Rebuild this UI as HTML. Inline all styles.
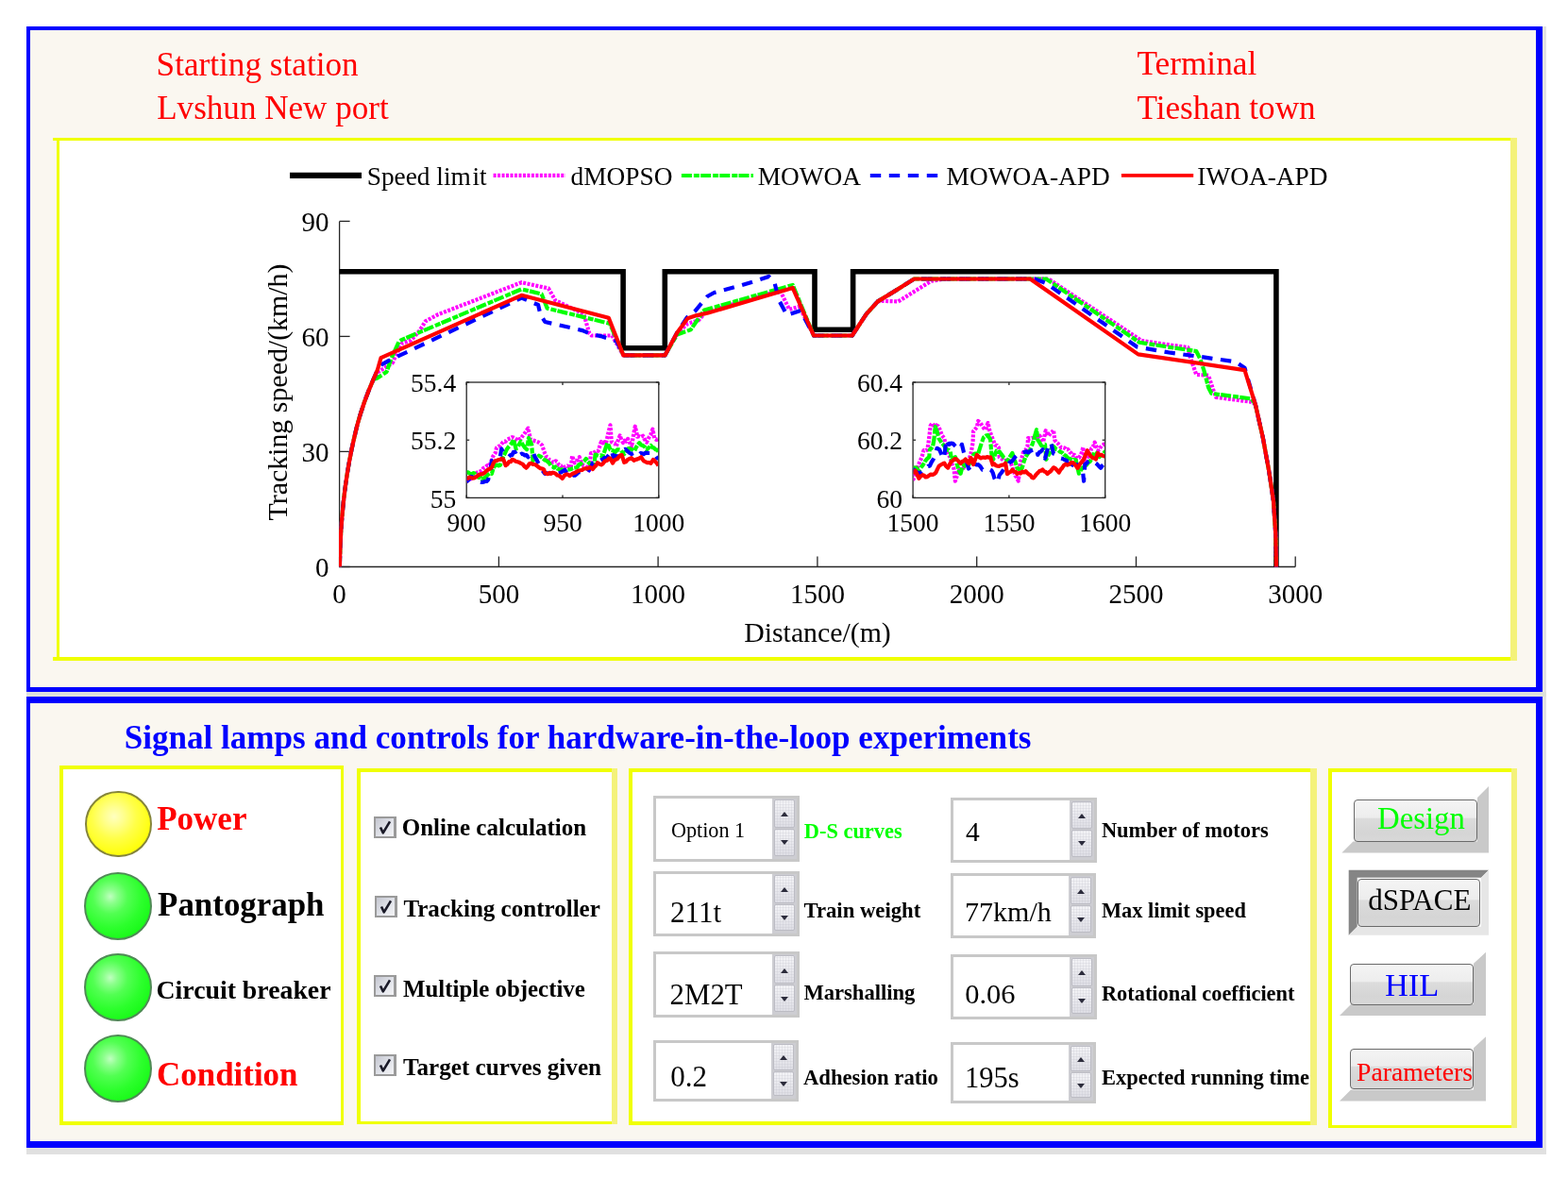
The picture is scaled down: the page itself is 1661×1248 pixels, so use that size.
<!DOCTYPE html>
<html><head><meta charset="utf-8"><title>HIL train tracking control panel</title>
<style>
html,body{margin:0;padding:0;}
body{width:1661px;height:1248px;position:relative;overflow:hidden;background:#fff;font-family:"Liberation Serif","Times New Roman",serif;}
.t{position:absolute;white-space:nowrap;line-height:0;}
.lamp{position:absolute;border-radius:50%;box-sizing:border-box;}
.spin{position:absolute;box-sizing:border-box;background:#fff;border:solid #c8c8c8;border-width:3px 3px 3px 3px;}
.spin .btns{position:absolute;top:0;bottom:0;right:0;width:26px;background:#cdcdd2;}
.spin .btns i{position:absolute;left:2px;right:2px;box-sizing:border-box;border:1px solid #bcbcc4;border-radius:2px;background:repeating-linear-gradient(0deg,rgba(255,255,255,0) 0 2px,rgba(190,190,200,.22) 2px 3px),repeating-linear-gradient(90deg,rgba(255,255,255,0) 0 2px,rgba(190,190,200,.22) 2px 3px),linear-gradient(180deg,#f4f4f7,#dedee5);}
.spin .up{top:1px;height:calc(50% - 2px);}
.spin .dn{bottom:3px;height:calc(50% - 3px);}
.spin .btns b{position:absolute;left:50%;width:0;height:0;margin-left:-4px;border-left:4px solid transparent;border-right:4px solid transparent;}
.spin .up b{top:56%;margin-top:-3px;border-bottom:5px solid #2c2c3c;}
.spin .dn b{top:50%;margin-top:-2px;border-top:5px solid #2c2c3c;}
.cb{position:absolute;width:24px;height:23px;box-sizing:border-box;border:solid #9a9a9a;border-width:2px 3px 2px 2px;background:linear-gradient(135deg,#c4c6d0,#e4e6ec 60%,#f2f2f4);}
.btn{position:absolute;box-sizing:border-box;border:1.5px solid #6a6a6a;border-radius:4px;background:linear-gradient(180deg,#f4f4f4 0%,#ededed 42%,#dcdcdc 45%,#d5d5d5 80%,#d8d8d8 100%);}
</style></head><body>
<div style="position:absolute;left:1634px;top:28px;width:4px;height:712px;background:#e2e2e2"></div>
<div style="position:absolute;left:28px;top:733px;width:1610px;height:5px;background:#dde0da"></div>
<div style="position:absolute;left:28px;top:28px;width:1606px;height:705px;box-sizing:border-box;border:solid #0000ff;border-width:4px 7px 5px 4px;background:#faf7f0"></div>
<div style="position:absolute;left:60px;top:146px;width:1547px;height:554px;background:#fff"></div>
<div style="position:absolute;left:56px;top:146px;width:1551px;height:3px;background:#f0ff00"></div>
<div style="position:absolute;left:60px;top:149px;width:3px;height:551px;background:#f0ff00"></div>
<div style="position:absolute;left:56px;top:696px;width:1551px;height:4px;background:#f0ff00"></div>
<div style="position:absolute;left:1600px;top:146px;width:7px;height:554px;background:#f4f27a"></div>
<div class="t" style="left:165.6px;top:68.7px;font-size:35.20px;color:#ff0000;font-weight:normal;">Starting station</div>
<div class="t" style="left:166.2px;top:114.8px;font-size:35.10px;color:#ff0000;font-weight:normal;">Lvshun New port</div>
<div class="t" style="left:1204.4px;top:68.3px;font-size:35.30px;color:#ff0000;font-weight:normal;">Terminal</div>
<div class="t" style="left:1204.4px;top:115.2px;font-size:35.20px;color:#ff0000;font-weight:normal;">Tieshan town</div>
<svg style="position:absolute;left:0;top:0" width="1661" height="740" viewBox="0 0 1661 740" font-family="Liberation Serif, Times New Roman, serif">
<defs><clipPath id="ca"><rect x="359" y="230" width="1015" height="372"/></clipPath><clipPath id="c1"><rect x="494.7" y="405.5" width="202.6" height="121.4"/></clipPath><clipPath id="c2"><rect x="967.6" y="405.5" width="202.6" height="121.4"/></clipPath></defs>
<line x1="307" y1="185.8" x2="383" y2="185.8" stroke="#000" stroke-width="6.2"/>
<line x1="522.6" y1="185.9" x2="599" y2="185.9" stroke="#ff00ff" stroke-width="4.4" stroke-dasharray="3 1.48"/>
<line x1="721.9" y1="186" x2="798" y2="186" stroke="#00ff00" stroke-width="4" stroke-dasharray="11 2 6 1.2"/>
<line x1="921.8" y1="186" x2="993.3" y2="186" stroke="#0000ff" stroke-width="4" stroke-dasharray="11.4 8.6"/>
<line x1="1187.9" y1="185.9" x2="1264.2" y2="185.9" stroke="#ff0000" stroke-width="3.8"/>
<g font-size="27.35" fill="#000"><text x="388.7" y="195.5">Speed lim<tspan dx="1.6">it</tspan></text><text x="604.6" y="195.5">dMOPSO</text><text x="802.7" y="195.5">MOWOA</text><text x="1002.6" y="195.5">MOWOA-APD</text><text x="1268.3" y="195.5">IWOA-APD</text></g>
<path d="M359.6,234.4 V600.5 H1372.2" fill="none" stroke="#262626" stroke-width="1.3"/>
<line x1="359.6" y1="234.4" x2="370.6" y2="234.4" stroke="#262626" stroke-width="1.3"/>
<line x1="359.6" y1="356.4" x2="370.6" y2="356.4" stroke="#262626" stroke-width="1.3"/>
<line x1="359.6" y1="478.4" x2="370.6" y2="478.4" stroke="#262626" stroke-width="1.3"/>
<line x1="359.6" y1="600.5" x2="370.6" y2="600.5" stroke="#262626" stroke-width="1.3"/>
<line x1="359.6" y1="600.5" x2="359.6" y2="589.5" stroke="#262626" stroke-width="1.3"/>
<line x1="528.4" y1="600.5" x2="528.4" y2="589.5" stroke="#262626" stroke-width="1.3"/>
<line x1="697.1" y1="600.5" x2="697.1" y2="589.5" stroke="#262626" stroke-width="1.3"/>
<line x1="865.9" y1="600.5" x2="865.9" y2="589.5" stroke="#262626" stroke-width="1.3"/>
<line x1="1034.7" y1="600.5" x2="1034.7" y2="589.5" stroke="#262626" stroke-width="1.3"/>
<line x1="1203.5" y1="600.5" x2="1203.5" y2="589.5" stroke="#262626" stroke-width="1.3"/>
<line x1="1372.2" y1="600.5" x2="1372.2" y2="589.5" stroke="#262626" stroke-width="1.3"/>
<g font-size="29" fill="#000">
<text x="348.5" y="244.8" text-anchor="end">90</text>
<text x="348.5" y="366.8" text-anchor="end">60</text>
<text x="348.5" y="488.8" text-anchor="end">30</text>
<text x="348.5" y="610.9" text-anchor="end">0</text>
<text x="359.6" y="639" text-anchor="middle">0</text>
<text x="528.4" y="639" text-anchor="middle">500</text>
<text x="697.1" y="639" text-anchor="middle">1000</text>
<text x="865.9" y="639" text-anchor="middle">1500</text>
<text x="1034.7" y="639" text-anchor="middle">2000</text>
<text x="1203.5" y="639" text-anchor="middle">2500</text>
<text x="1372.2" y="639" text-anchor="middle">3000</text>
<text x="866" y="679.7" text-anchor="middle" font-size="29.8">Distance/(m)</text>
<text transform="translate(303.8,415.5) rotate(-90)" text-anchor="middle" font-size="29.9">Tracking speed/(km/h)</text>
</g>
<g clip-path="url(#ca)" fill="none" stroke-linejoin="round">
<path d="M359.6,287.8 H660.1 V368.8 H704.3 V287.8 H863 V349.2 H903.6 V287.8 H1351.9 V600.5" stroke="#000" stroke-width="5.6" stroke-linejoin="miter"/>
<polyline points="359.8,600.5 360.1,590.0 360.5,578.0 361.2,563.0 362.3,548.0 363.8,532.0 365.6,517.0 367.6,503.0 370.0,489.0 372.5,476.0 375.4,463.0 378.5,450.0 382.0,438.0 386.0,426.0 390.5,414.0 395.5,402.0 400.8,394.0 416.0,384.3 418.2,378.9 425.8,363.7 435.5,360.4 444.2,350.7 450.7,340.4 463.7,333.3 552.5,299.2 581.0,305.5 588.2,318.2 618.3,332.6 624.3,353.1 626.7,355.5 648.4,355.5 660.4,376.4 704.4,376.4 717.2,353.0 728.5,342.9 740.1,339.2 747.7,330.5 826.4,307.8 836.0,327.8 846.9,324.8 862.0,355.5 902.7,355.5 917.8,332.6 929.8,319.4 934.7,318.8 951.5,319.4 986.4,297.7 1000.0,295.5 1110.6,295.5 1209.3,360.9 1240.0,365.6 1258.4,368.0 1260.8,378.5 1264.8,389.7 1267.2,396.9 1280.1,397.7 1284.9,412.1 1288.1,420.9 1324.9,425.7 1329.8,428.3 1337.8,463.6 1344.2,498.8 1349.0,530.9 1351.3,566.2 1352.0,600.5" stroke="#ff00ff" stroke-width="4.2" stroke-dasharray="3 1.5"/>
<polyline points="359.8,600.5 360.1,590.0 360.5,578.0 361.2,563.0 362.3,548.0 363.8,532.0 365.6,517.0 367.6,503.0 370.0,489.0 372.5,476.0 375.4,463.0 378.5,450.0 382.0,438.0 386.0,426.0 390.5,414.0 395.5,402.0 399.8,400.5 409.5,394.0 414.9,378.9 422.5,362.1 424.7,360.4 552.5,306.3 573.7,311.5 579.7,326.6 646.0,342.8 660.4,376.4 704.4,376.4 717.2,354.5 731.7,349.3 746.1,328.5 839.7,301.9 862.0,355.5 902.7,355.5 917.8,332.6 929.8,319.4 946.7,309.1 968.4,295.5 1108.2,295.5 1206.9,362.7 1240.0,368.0 1267.2,372.0 1271.3,380.1 1275.3,392.1 1280.1,410.5 1283.3,416.9 1325.7,422.5 1329.8,428.3 1337.8,463.6 1344.2,498.8 1349.0,530.9 1351.3,566.2 1352.0,600.5" stroke="#00ff00" stroke-width="4.2" stroke-dasharray="11 2 6 1.2"/>
<polyline points="359.8,600.5 360.1,590.0 360.5,578.0 361.2,563.0 362.3,548.0 363.8,532.0 365.6,517.0 367.6,503.0 370.0,489.0 372.5,476.0 375.4,463.0 378.5,450.0 382.0,438.0 386.0,426.0 390.5,414.0 395.5,402.0 400.0,391.5 404.1,386.4 411.7,382.1 552.5,315.5 570.1,323.0 572.5,333.2 577.3,341.0 617.1,350.1 625.5,353.7 636.3,356.1 653.2,361.5 660.4,376.4 704.4,376.4 717.2,352.5 727.7,336.5 736.5,329.3 749.3,314.0 756.5,310.0 766.9,307.2 784.6,302.4 802.3,297.1 814.4,292.9 820.4,298.9 825.2,318.2 833.7,333.8 848.1,329.0 862.0,355.5 902.7,355.5 917.8,332.6 929.8,319.4 946.7,309.1 968.4,295.5 1096.1,295.5 1108.2,300.1 1204.5,367.5 1240.0,373.7 1269.6,377.7 1308.9,383.3 1318.5,389.7 1329.8,428.3 1337.8,463.6 1344.2,498.8 1349.0,530.9 1351.3,566.2 1352.0,600.5" stroke="#0000ff" stroke-width="4.2" stroke-dasharray="11.4 8.6"/>
<polyline points="359.8,600.5 360.1,590.0 360.5,578.0 361.2,563.0 362.3,548.0 363.8,532.0 365.6,517.0 367.6,503.0 370.0,489.0 372.5,476.0 375.4,463.0 378.5,450.0 382.0,438.0 386.0,426.0 390.5,414.0 395.5,402.0 400.0,391.5 403.5,379.2 552.5,312.8 644.8,336.8 660.4,376.4 704.4,376.4 717.2,352.5 728.5,337.3 738.1,334.1 750.1,331.5 839.7,304.9 862.0,355.5 902.7,355.5 917.8,332.6 929.8,319.4 946.7,309.1 968.4,295.5 1091.3,295.5 1205.7,375.4 1318.5,392.1 1329.8,428.3 1337.8,463.6 1344.2,498.8 1349.0,530.9 1351.3,566.2 1352.0,600.5" stroke="#ff0000" stroke-width="4.2"/>
</g>
<rect x="494.2" y="405" width="203.6" height="122.4" fill="#fff" stroke="#262626" stroke-width="1.3"/>
<line x1="494.2" y1="405.0" x2="497.2" y2="405.0" stroke="#262626" stroke-width="1.3"/><line x1="697.8" y1="405.0" x2="694.8" y2="405.0" stroke="#262626" stroke-width="1.3"/>
<line x1="494.2" y1="466.2" x2="497.2" y2="466.2" stroke="#262626" stroke-width="1.3"/><line x1="697.8" y1="466.2" x2="694.8" y2="466.2" stroke="#262626" stroke-width="1.3"/>
<line x1="494.2" y1="527.4" x2="497.2" y2="527.4" stroke="#262626" stroke-width="1.3"/><line x1="697.8" y1="527.4" x2="694.8" y2="527.4" stroke="#262626" stroke-width="1.3"/>
<line x1="494.2" y1="405" x2="494.2" y2="408.0" stroke="#262626" stroke-width="1.3"/><line x1="494.2" y1="527.4" x2="494.2" y2="524.4" stroke="#262626" stroke-width="1.3"/>
<line x1="596.0" y1="405" x2="596.0" y2="408.0" stroke="#262626" stroke-width="1.3"/><line x1="596.0" y1="527.4" x2="596.0" y2="524.4" stroke="#262626" stroke-width="1.3"/>
<line x1="697.8" y1="405" x2="697.8" y2="408.0" stroke="#262626" stroke-width="1.3"/><line x1="697.8" y1="527.4" x2="697.8" y2="524.4" stroke="#262626" stroke-width="1.3"/>
<g clip-path="url(#c1)" fill="none" stroke-linejoin="round">
<polyline points="494.0,510.4 496.0,508.8 498.0,507.9 500.0,504.9 501.7,503.8 503.4,502.9 505.1,500.7 506.8,500.3 508.5,499.5 510.3,498.8 512.0,496.0 514.1,495.1 516.3,493.1 518.4,493.3 520.2,489.3 522.0,483.9 524.8,479.7 526.0,474.4 528.0,473.0 530.0,472.3 531.9,469.6 533.7,467.6 535.4,467.8 537.2,465.6 538.9,464.9 540.6,464.3 542.3,463.2 544.0,463.6 546.0,464.7 548.0,466.8 549.9,465.2 551.7,464.7 553.4,462.2 555.0,460.4 557.2,456.9 559.4,453.6 562.0,465.6 563.9,466.4 565.8,466.9 567.7,467.4 569.8,468.2 572.0,469.7 574.1,471.5 577.3,480.7 578.9,483.9 580.5,484.7 582.1,487.3 583.7,487.8 585.3,489.7 587.0,489.9 588.6,488.3 590.2,489.3 592.1,492.7 594.1,493.3 596.0,496.2 599.0,494.3 600.9,493.5 602.9,494.8 604.8,495.2 606.1,483.0 608.7,490.3 610.4,488.3 612.1,487.3 613.8,484.2 616.4,491.7 618.3,493.3 620.2,494.2 622.1,495.4 624.0,498.4 626.0,480.2 627.9,480.2 629.9,479.0 631.8,477.4 633.7,477.8 636.9,467.9 638.6,469.4 640.3,468.3 642.0,469.3 644.2,459.5 646.5,450.3 647.8,468.0 649.5,469.3 651.2,469.8 652.9,472.9 654.8,466.2 656.7,461.5 658.4,466.2 660.0,469.1 661.7,466.8 663.4,467.8 665.1,464.9 667.0,468.9 668.9,474.0 670.8,462.3 672.8,451.7 675.3,462.7 677.2,462.3 679.2,463.0 681.1,461.8 683.0,465.8 685.0,468.5 687.1,464.0 689.3,460.5 691.4,454.7 693.3,464.6 695.4,465.9 697.5,465.6" stroke="#ff00ff" stroke-width="4.2" stroke-dasharray="3 1.5"/>
<polyline points="494.0,500.3 495.9,500.4 497.9,502.0 499.8,502.0 501.7,501.0 503.5,502.0 505.3,504.3 507.1,505.9 508.9,505.5 510.7,508.2 512.5,507.0 514.2,505.3 516.0,503.8 517.6,502.2 519.3,501.0 520.9,501.8 522.5,496.5 524.1,493.6 526.0,492.5 528.0,493.4 529.9,492.8 531.6,487.9 533.3,483.4 535.0,480.1 536.7,476.3 538.3,474.0 540.0,472.1 542.0,469.5 544.0,465.8 546.6,475.5 548.3,474.4 550.0,470.6 551.7,467.8 553.8,471.1 556.0,474.3 558.1,476.3 560.0,463.8 561.6,467.3 563.2,470.9 564.5,488.0 566.6,486.1 568.8,484.8 570.9,482.7 573.0,483.9 575.2,485.9 577.3,487.6 578.9,488.1 580.5,489.4 582.1,490.8 583.7,494.0 585.3,494.4 586.9,495.6 588.5,494.5 590.2,496.5 591.8,496.9 593.4,498.2 595.5,497.3 597.6,498.7 599.7,496.9 601.3,497.3 603.0,497.3 604.6,497.1 606.3,496.3 607.9,495.8 609.6,495.5 611.2,495.3 613.1,492.5 615.0,491.6 617.0,490.3 618.9,488.6 620.8,486.0 623.0,489.3 625.3,492.0 627.2,494.6 629.2,497.9 630.5,481.5 632.4,482.3 634.4,482.9 636.3,482.3 638.2,483.9 639.9,479.7 641.6,474.5 643.3,469.3 644.9,472.1 646.5,476.4 648.2,476.9 649.9,477.5 651.6,479.2 653.9,476.4 656.1,476.4 657.8,476.7 659.5,479.5 661.2,481.0 663.5,477.3 665.7,475.0 667.8,475.5 670.0,476.6 672.1,478.0 673.8,474.1 675.6,471.1 677.3,469.1 679.2,471.5 681.1,472.1 683.1,473.6 685.0,476.7 687.2,474.3 689.4,471.9 691.0,474.1 692.6,474.3 694.3,476.2 695.9,476.6 697.5,478.5" stroke="#00ff00" stroke-width="4.2" stroke-dasharray="11 2 6 1.2"/>
<polyline points="494.0,510.4 495.7,509.0 497.4,507.1 499.1,504.9 501.2,506.2 503.4,509.0 505.5,510.8 507.1,510.2 508.8,510.6 510.4,511.0 512.0,510.7 513.7,510.0 515.4,510.0 517.1,508.2 519.6,497.0 520.9,488.0 522.7,486.8 524.5,485.7 526.3,485.2 528.1,484.8 529.9,483.6 531.2,475.5 533.1,478.8 535.0,481.4 537.0,482.6 538.9,484.0 540.6,482.2 542.3,482.2 544.0,478.8 545.7,479.1 547.4,477.7 549.1,476.1 551.1,481.6 552.8,480.6 554.4,481.3 556.1,482.5 557.7,482.1 559.4,484.3 561.1,481.8 562.8,480.3 564.5,478.8 566.4,483.6 568.4,486.9 570.3,490.9 572.0,493.6 573.8,496.7 575.5,499.7 577.3,501.9 578.9,501.1 580.5,501.9 582.1,501.5 583.8,501.4 585.4,502.5 587.0,503.2 588.7,501.7 590.3,501.5 592.0,501.2 594.1,500.6 596.3,499.0 598.4,497.9 600.1,500.8 601.8,502.6 603.5,506.0 605.3,505.4 607.1,502.9 609.0,503.7 610.8,502.4 612.6,500.4 614.4,500.2 616.1,500.3 617.8,500.6 619.4,499.3 621.1,499.4 622.8,499.8 624.5,496.8 626.2,494.3 627.9,490.5 629.7,490.2 631.4,488.6 633.2,488.9 635.0,488.4 636.7,487.3 638.5,486.8 640.2,485.0 642.0,485.7 643.9,483.3 645.9,480.7 647.8,477.3 649.7,484.2 651.8,482.8 654.0,483.6 656.1,483.0 658.2,479.9 660.4,477.2 662.5,475.8 664.6,477.7 666.8,479.8 668.9,481.0 671.0,480.1 673.2,481.6 675.3,480.1 676.9,481.5 678.5,480.1 680.1,480.4 681.8,481.2 683.4,479.8 685.0,479.7 687.1,480.0 689.3,480.0 691.4,479.8 693.4,481.8 695.5,484.7 697.5,486.2" stroke="#0000ff" stroke-width="4.2" stroke-dasharray="11.4 8.6"/>
<polyline points="494.0,506.0 495.7,506.9 497.3,505.6 499.0,506.0 500.6,506.6 502.3,506.4 504.6,505.2 507.0,503.2 509.1,502.3 511.1,502.1 513.2,501.0 515.1,499.0 517.0,497.5 519.0,496.7 520.9,495.1 522.8,490.5 524.8,488.0 526.5,487.9 528.1,487.0 529.8,486.8 531.4,486.0 533.1,486.3 535.7,493.2 537.5,491.8 539.2,489.2 541.0,489.2 542.7,486.8 544.5,487.4 546.3,488.8 548.1,489.2 549.9,489.8 551.7,490.9 553.6,491.6 555.6,494.1 557.5,495.7 559.1,493.9 560.7,491.3 562.6,490.9 564.5,491.9 566.5,492.0 568.4,493.1 570.3,494.8 572.2,496.1 574.2,496.5 576.1,497.4 577.3,501.0 578.9,501.7 580.5,502.2 582.1,500.9 583.8,501.9 585.4,500.7 587.0,501.0 588.7,501.9 590.3,503.5 592.0,503.8 593.9,505.2 595.8,506.9 597.8,503.8 599.7,502.6 601.6,502.5 603.5,504.1 605.4,502.6 607.4,501.4 609.3,500.8 611.2,499.5 613.0,498.8 614.7,498.3 616.5,498.0 618.2,496.8 620.0,496.3 621.8,496.4 623.5,495.9 625.3,495.1 627.9,497.0 629.6,494.6 631.3,493.1 633.0,490.2 635.0,491.6 636.9,492.4 638.5,491.4 640.1,489.3 641.7,488.1 643.3,487.9 644.9,485.6 646.5,485.7 649.0,490.6 650.6,488.0 652.2,486.8 653.9,486.2 655.5,484.1 657.1,482.4 658.7,482.2 661.2,489.9 663.1,489.2 665.0,486.9 667.0,486.0 668.9,485.2 671.5,487.9 673.4,486.9 675.4,486.4 677.3,485.5 679.2,484.3 681.7,488.1 683.6,489.2 685.5,490.1 687.5,490.1 689.4,490.9 692.0,486.9 693.8,488.6 695.7,490.6 697.5,493.2" stroke="#ff0000" stroke-width="4.2"/>
</g>
<g font-size="27.5" fill="#000">
<text x="483.2" y="537.6" text-anchor="end">55</text>
<text x="483.2" y="476.4" text-anchor="end">55.2</text>
<text x="483.2" y="415.2" text-anchor="end">55.4</text>
<text x="494.2" y="563" text-anchor="middle">900</text>
<text x="596.0" y="563" text-anchor="middle">950</text>
<text x="697.8" y="563" text-anchor="middle">1000</text>
</g>
<rect x="967.1" y="405" width="203.6" height="122.4" fill="#fff" stroke="#262626" stroke-width="1.3"/>
<line x1="967.1" y1="405.0" x2="970.1" y2="405.0" stroke="#262626" stroke-width="1.3"/><line x1="1170.7" y1="405.0" x2="1167.7" y2="405.0" stroke="#262626" stroke-width="1.3"/>
<line x1="967.1" y1="466.2" x2="970.1" y2="466.2" stroke="#262626" stroke-width="1.3"/><line x1="1170.7" y1="466.2" x2="1167.7" y2="466.2" stroke="#262626" stroke-width="1.3"/>
<line x1="967.1" y1="527.4" x2="970.1" y2="527.4" stroke="#262626" stroke-width="1.3"/><line x1="1170.7" y1="527.4" x2="1167.7" y2="527.4" stroke="#262626" stroke-width="1.3"/>
<line x1="967.1" y1="405" x2="967.1" y2="408.0" stroke="#262626" stroke-width="1.3"/><line x1="967.1" y1="527.4" x2="967.1" y2="524.4" stroke="#262626" stroke-width="1.3"/>
<line x1="1068.9" y1="405" x2="1068.9" y2="408.0" stroke="#262626" stroke-width="1.3"/><line x1="1068.9" y1="527.4" x2="1068.9" y2="524.4" stroke="#262626" stroke-width="1.3"/>
<line x1="1170.7" y1="405" x2="1170.7" y2="408.0" stroke="#262626" stroke-width="1.3"/><line x1="1170.7" y1="527.4" x2="1170.7" y2="524.4" stroke="#262626" stroke-width="1.3"/>
<g clip-path="url(#c2)" fill="none" stroke-linejoin="round">
<polyline points="967.0,508.8 968.7,504.9 970.4,499.7 972.1,494.7 974.4,488.9 976.6,484.1 978.5,477.1 980.5,477.4 982.4,476.5 984.3,463.4 985.6,451.2 987.5,448.5 989.6,451.1 991.8,450.4 993.9,451.5 995.8,455.6 997.8,461.1 1000.3,464.4 1002.9,478.3 1004.5,481.9 1006.1,483.7 1008.4,491.1 1010.6,497.2 1011.9,509.7 1013.8,504.0 1015.7,498.3 1017.7,497.5 1019.6,497.0 1021.3,494.8 1023.0,493.5 1024.7,490.1 1026.6,486.4 1028.5,480.4 1030.5,469.3 1031.1,456.9 1033.0,454.7 1034.9,452.6 1036.2,446.0 1038.5,448.1 1040.7,451.5 1042.3,453.9 1043.9,455.4 1046.5,448.1 1048.4,456.6 1051.6,465.1 1054.2,471.6 1056.1,471.8 1058.0,474.3 1058.7,484.5 1061.0,486.0 1063.2,488.0 1065.2,488.0 1067.2,487.2 1069.2,487.9 1071.3,491.9 1073.5,498.2 1075.6,504.0 1077.2,505.8 1078.8,509.6 1080.7,490.3 1082.3,485.1 1084.0,479.1 1086.2,477.3 1088.4,473.1 1089.1,464.0 1091.0,464.6 1092.9,464.1 1094.8,463.8 1096.4,462.8 1098.0,463.6 1099.7,462.2 1101.3,461.7 1103.2,464.7 1105.1,468.1 1107.7,456.2 1109.3,459.5 1110.9,461.8 1112.6,459.1 1114.3,458.0 1116.0,455.6 1117.3,466.2 1119.0,468.5 1120.7,469.8 1122.4,472.1 1124.2,474.3 1126.0,474.1 1127.8,474.6 1129.6,476.4 1131.4,476.1 1133.1,479.0 1134.8,480.1 1136.5,482.4 1138.1,481.8 1139.7,484.2 1141.3,485.7 1142.9,485.1 1145.2,481.4 1147.4,473.8 1149.3,491.2 1151.0,486.6 1152.8,483.6 1154.5,480.0 1156.2,475.0 1157.9,473.5 1159.6,468.6 1161.5,473.1 1163.4,477.4 1165.1,474.7 1166.9,472.4 1168.6,471.2 1171.0,469.5" stroke="#ff00ff" stroke-width="4.2" stroke-dasharray="3 1.5"/>
<polyline points="967.0,496.5 968.9,495.3 970.8,495.5 973.4,499.2 975.5,495.4 977.7,492.7 979.8,489.1 982.0,486.1 984.3,484.1 984.9,476.3 986.5,475.0 988.2,472.5 989.4,466.0 990.7,451.9 992.6,456.9 994.6,464.7 997.8,469.6 999.7,471.6 1001.6,474.6 1003.3,476.8 1005.0,476.7 1006.7,478.5 1008.0,487.1 1010.0,485.6 1011.9,484.1 1013.8,491.9 1015.7,498.3 1017.6,501.7 1020.2,491.8 1022.5,493.8 1024.7,494.4 1026.6,491.7 1028.5,489.1 1031.1,481.8 1032.8,480.5 1034.5,480.7 1036.2,480.7 1037.5,476.4 1040.1,468.3 1042.0,463.3 1044.2,461.6 1046.5,461.1 1049.1,465.7 1049.7,473.0 1050.3,480.6 1052.3,486.7 1053.9,481.8 1055.5,477.7 1057.1,478.9 1058.7,478.4 1061.0,481.6 1063.2,484.6 1065.1,486.0 1067.0,488.5 1068.8,485.4 1070.6,482.7 1072.4,480.0 1074.1,485.8 1075.8,490.2 1077.5,495.9 1079.2,496.9 1081.0,496.4 1082.7,495.9 1084.6,489.1 1086.5,484.0 1088.1,481.5 1089.7,479.0 1091.3,476.4 1092.9,472.5 1094.6,467.6 1096.4,460.9 1098.1,455.2 1099.3,466.0 1101.2,468.9 1103.2,472.3 1105.1,471.1 1107.0,470.8 1108.3,486.8 1109.9,483.6 1111.5,480.8 1113.1,477.5 1114.7,472.4 1116.8,473.6 1119.0,476.1 1121.1,476.7 1123.0,478.8 1125.0,479.4 1126.9,481.5 1129.0,482.7 1131.2,485.3 1133.3,485.9 1134.9,486.8 1136.5,487.8 1138.1,486.8 1139.7,487.5 1141.3,494.6 1142.9,501.7 1145.0,498.0 1147.2,495.1 1149.3,491.8 1151.0,492.5 1152.8,490.0 1154.5,489.2 1156.2,486.3 1157.9,482.3 1159.6,478.9 1161.3,480.2 1163.0,483.3 1164.7,484.1 1166.8,482.0 1168.9,480.5 1171.0,477.8" stroke="#00ff00" stroke-width="4.2" stroke-dasharray="11 2 6 1.2"/>
<polyline points="967.0,496.9 968.9,498.3 970.9,500.0 972.8,500.9 974.7,501.1 976.4,499.4 978.1,498.4 979.8,497.8 981.5,495.7 983.2,493.8 984.9,493.6 986.8,489.5 988.8,486.4 990.7,482.6 992.6,474.8 995.2,476.4 997.1,481.0 999.7,485.8 1001.0,478.1 1002.3,465.4 1003.9,468.7 1005.5,470.9 1007.4,469.6 1009.3,469.8 1011.2,471.8 1013.2,473.7 1015.1,474.7 1017.0,475.7 1018.9,470.8 1020.8,478.6 1022.8,485.5 1024.4,490.4 1026.0,496.5 1028.5,493.9 1031.1,489.4 1032.8,491.4 1034.5,492.5 1036.2,492.2 1038.5,494.2 1040.7,497.7 1042.4,497.2 1044.1,496.6 1045.8,496.7 1048.0,497.1 1050.3,498.3 1051.9,501.3 1053.5,506.8 1055.1,509.8 1056.7,511.0 1058.7,503.3 1061.0,500.7 1063.2,497.2 1066.0,493.7 1067.9,492.7 1069.8,489.6 1071.8,488.8 1073.7,486.5 1075.8,483.5 1078.0,481.3 1080.1,480.2 1081.9,479.5 1083.7,479.7 1085.5,478.8 1087.3,478.4 1089.1,479.4 1091.0,478.2 1092.9,477.2 1094.6,476.4 1096.4,475.9 1098.1,475.0 1099.3,481.8 1101.0,479.1 1102.8,478.3 1104.5,476.2 1107.0,485.6 1109.0,478.5 1110.9,471.5 1113.4,469.0 1116.0,480.6 1117.9,481.3 1119.8,482.3 1121.8,484.0 1123.7,485.5 1125.8,486.0 1128.0,487.3 1130.1,488.0 1131.4,496.9 1133.1,496.1 1134.8,493.6 1136.5,491.9 1138.1,492.0 1139.7,492.4 1141.3,492.2 1142.9,493.5 1144.8,494.3 1146.8,497.3 1148.1,509.7 1149.3,491.6 1150.9,491.2 1152.5,489.4 1154.1,488.5 1155.7,488.6 1157.3,489.8 1159.0,491.5 1160.6,490.7 1162.2,491.8 1164.1,493.9 1166.0,495.8 1167.7,493.3 1169.3,491.7 1171.0,488.7" stroke="#0000ff" stroke-width="4.2" stroke-dasharray="11.4 8.6"/>
<polyline points="967.0,501.7 969.6,498.6 971.5,502.6 973.4,506.9 975.3,504.5 977.3,503.2 978.9,503.8 980.5,505.5 982.3,505.1 984.2,503.8 986.0,502.6 987.8,502.9 989.6,502.3 991.4,500.6 993.0,497.1 994.6,493.9 996.5,492.5 998.4,491.5 1000.3,490.6 1002.2,493.9 1004.2,495.6 1006.1,491.7 1008.0,488.7 1009.7,487.7 1011.5,486.2 1013.2,486.3 1015.4,488.7 1017.6,490.9 1019.3,489.0 1021.1,488.3 1022.8,486.6 1024.4,489.2 1026.0,490.9 1028.5,485.1 1031.1,492.1 1033.0,486.9 1034.9,482.0 1037.5,484.5 1039.1,485.3 1040.7,484.6 1042.3,484.6 1043.9,485.0 1045.6,484.1 1047.4,484.7 1049.1,484.3 1051.6,492.3 1053.3,491.5 1055.0,493.2 1056.6,493.6 1058.3,493.9 1060.0,493.1 1061.7,492.6 1063.4,492.5 1065.1,490.7 1067.0,502.2 1068.8,500.6 1070.6,499.9 1072.4,497.8 1074.1,499.5 1075.8,499.9 1077.5,502.0 1079.3,501.0 1081.1,501.4 1082.9,499.7 1084.7,500.5 1086.5,499.1 1088.2,501.1 1089.8,502.5 1091.5,503.3 1093.1,505.8 1094.8,506.4 1096.4,504.5 1098.0,502.2 1099.7,500.6 1101.3,498.9 1102.9,498.7 1104.5,497.5 1106.2,499.5 1107.9,500.1 1109.6,502.0 1111.2,500.4 1112.8,499.4 1114.4,497.4 1116.0,495.3 1117.9,496.1 1119.9,498.4 1121.8,500.6 1123.5,497.5 1125.2,495.7 1126.9,493.1 1128.8,491.8 1130.7,492.7 1132.7,491.8 1134.6,490.2 1136.5,490.2 1138.2,491.6 1139.9,493.7 1141.6,495.9 1143.2,493.1 1144.8,490.7 1146.5,488.4 1148.1,486.5 1150.0,481.6 1151.9,477.3 1153.8,481.1 1155.7,483.3 1157.4,485.2 1159.2,485.4 1160.9,486.6 1162.8,480.1 1164.7,482.0 1166.7,481.9 1168.6,483.0 1171.0,483.6" stroke="#ff0000" stroke-width="4.2"/>
</g>
<g font-size="27.5" fill="#000">
<text x="956.1" y="537.6" text-anchor="end">60</text>
<text x="956.1" y="476.4" text-anchor="end">60.2</text>
<text x="956.1" y="415.2" text-anchor="end">60.4</text>
<text x="967.1" y="563" text-anchor="middle">1500</text>
<text x="1068.9" y="563" text-anchor="middle">1550</text>
<text x="1170.7" y="563" text-anchor="middle">1600</text>
</g>
</svg>
<div style="position:absolute;left:1634px;top:738px;width:4px;height:485px;background:#e2e2e2"></div>
<div style="position:absolute;left:28px;top:1216px;width:1610px;height:7px;background:#e0e0e0"></div>
<div style="position:absolute;left:28px;top:738px;width:1606px;height:478px;box-sizing:border-box;border:solid #0000ff;border-width:7px 7px 7px 4px;background:#faf7f0"></div>
<div class="t" style="left:131.7px;top:782.3px;font-size:35.10px;color:#0000ff;font-weight:bold;">Signal lamps and controls for hardware-in-the-loop experiments</div>
<div style="position:absolute;left:63px;top:811px;width:301px;height:381px;background:#fff"></div>
<div style="position:absolute;left:63px;top:811px;width:301px;height:3.5px;background:#f0ff00"></div>
<div style="position:absolute;left:63px;top:811px;width:4px;height:381px;background:#f0ff00"></div>
<div style="position:absolute;left:63px;top:1188px;width:301px;height:4px;background:#f0ff00"></div>
<div style="position:absolute;left:360.5px;top:811px;width:3.5px;height:381px;background:#f0ff00"></div>
<div style="position:absolute;left:378px;top:814px;width:276px;height:377px;background:#fff"></div>
<div style="position:absolute;left:378px;top:814px;width:276px;height:3.5px;background:#f0ff00"></div>
<div style="position:absolute;left:378px;top:814px;width:4px;height:377px;background:#f0ff00"></div>
<div style="position:absolute;left:378px;top:1187.5px;width:276px;height:3.5px;background:#f0ff00"></div>
<div style="position:absolute;left:648px;top:814px;width:6px;height:377px;background:#f4f27a"></div>
<div style="position:absolute;left:666px;top:814px;width:729px;height:378px;background:#fff"></div>
<div style="position:absolute;left:666px;top:814px;width:729px;height:3.5px;background:#f0ff00"></div>
<div style="position:absolute;left:666px;top:814px;width:3.5px;height:378px;background:#f0ff00"></div>
<div style="position:absolute;left:666px;top:1187.5px;width:729px;height:4.5px;background:#f0ff00"></div>
<div style="position:absolute;left:1388px;top:814px;width:7px;height:378px;background:#f4f27a"></div>
<div style="position:absolute;left:1407px;top:814px;width:200px;height:381px;background:#fff"></div>
<div style="position:absolute;left:1407px;top:814px;width:200px;height:3.5px;background:#f0ff00"></div>
<div style="position:absolute;left:1407px;top:814px;width:4px;height:381px;background:#f0ff00"></div>
<div style="position:absolute;left:1407px;top:1191.5px;width:200px;height:3.5px;background:#f0ff00"></div>
<div style="position:absolute;left:1601px;top:814px;width:6px;height:381px;background:#f4f27a"></div>
<div class="lamp" style="left:90.3px;top:837.8px;width:70.4px;height:70.4px;background:radial-gradient(circle at 43% 38%, #ffffc0 0%, #ffff90 18%, #ffff48 42%, #ffff10 70%, #f4f400 100%);border:2px solid #85853a"></div>
<div class="lamp" style="left:89.4px;top:923.6px;width:72.0px;height:72.0px;background:radial-gradient(circle at 38% 35%, #c0ffc0 0%, #8cff8c 12%, #52ff52 30%, #2cff2c 55%, #12f812 85%, #08ea08 100%);border:2px solid #4f8a55"></div>
<div class="lamp" style="left:89.4px;top:1009.6px;width:72.0px;height:72.0px;background:radial-gradient(circle at 38% 35%, #c0ffc0 0%, #8cff8c 12%, #52ff52 30%, #2cff2c 55%, #12f812 85%, #08ea08 100%);border:2px solid #4f8a55"></div>
<div class="lamp" style="left:89.4px;top:1096.3px;width:72.0px;height:72.0px;background:radial-gradient(circle at 38% 35%, #c0ffc0 0%, #8cff8c 12%, #52ff52 30%, #2cff2c 55%, #12f812 85%, #08ea08 100%);border:2px solid #4f8a55"></div>
<div class="t" style="left:166.2px;top:867.5px;font-size:35.00px;color:#ff0000;font-weight:bold;">Power</div>
<div class="t" style="left:167.1px;top:958.7px;font-size:34.90px;color:#000;font-weight:bold;">Pantograph</div>
<div class="t" style="left:165.5px;top:1048.8px;font-size:27.80px;color:#000;font-weight:bold;">Circuit breaker</div>
<div class="t" style="left:166.0px;top:1138.6px;font-size:34.95px;color:#ff0000;font-weight:bold;">Condition</div>
<div class="cb" style="left:395.5px;top:865px"><svg style="position:absolute;left:0;top:0" width="20" height="19" viewBox="0 0 20 19"><path d="M5,9.5 L7.8,15.4 L15,3.4" fill="none" stroke="#1a1a28" stroke-width="2.6" stroke-linejoin="round"/></svg></div>
<div class="cb" style="left:396.5px;top:948.5px"><svg style="position:absolute;left:0;top:0" width="20" height="19" viewBox="0 0 20 19"><path d="M5,9.5 L7.8,15.4 L15,3.4" fill="none" stroke="#1a1a28" stroke-width="2.6" stroke-linejoin="round"/></svg></div>
<div class="cb" style="left:395.5px;top:1033px"><svg style="position:absolute;left:0;top:0" width="20" height="19" viewBox="0 0 20 19"><path d="M5,9.5 L7.8,15.4 L15,3.4" fill="none" stroke="#1a1a28" stroke-width="2.6" stroke-linejoin="round"/></svg></div>
<div class="cb" style="left:395.5px;top:1117px"><svg style="position:absolute;left:0;top:0" width="20" height="19" viewBox="0 0 20 19"><path d="M5,9.5 L7.8,15.4 L15,3.4" fill="none" stroke="#1a1a28" stroke-width="2.6" stroke-linejoin="round"/></svg></div>
<div class="t" style="left:425.7px;top:877.2px;font-size:25.06px;color:#000;font-weight:bold;">Online calculation</div>
<div class="t" style="left:427.4px;top:963.4px;font-size:25.06px;color:#000;font-weight:bold;">Tracking controller</div>
<div class="t" style="left:427.0px;top:1048.2px;font-size:24.90px;color:#000;font-weight:bold;">Multiple objective</div>
<div class="t" style="left:427.0px;top:1130.9px;font-size:25.17px;color:#000;font-weight:bold;">Target curves given</div>
<div class="spin" style="left:692.3px;top:842.5px;width:154.7px;height:70.0px"><div class="btns"><i class="up"><b></b></i><i class="dn"><b></b></i></div></div>
<div class="spin" style="left:692.3px;top:923px;width:154.7px;height:69.0px"><div class="btns"><i class="up"><b></b></i><i class="dn"><b></b></i></div></div>
<div class="spin" style="left:692.3px;top:1008.4px;width:154.7px;height:69.6px"><div class="btns"><i class="up"><b></b></i><i class="dn"><b></b></i></div></div>
<div class="spin" style="left:692.3px;top:1101.6px;width:153.7px;height:65.9px"><div class="btns"><i class="up"><b></b></i><i class="dn"><b></b></i></div></div>
<div class="spin" style="left:1007.3px;top:844.5px;width:154.7px;height:69.1px"><div class="btns"><i class="up"><b></b></i><i class="dn"><b></b></i></div></div>
<div class="spin" style="left:1007.3px;top:924.7px;width:153.7px;height:69.1px"><div class="btns"><i class="up"><b></b></i><i class="dn"><b></b></i></div></div>
<div class="spin" style="left:1007.3px;top:1011px;width:154.7px;height:69.2px"><div class="btns"><i class="up"><b></b></i><i class="dn"><b></b></i></div></div>
<div class="spin" style="left:1007px;top:1103.6px;width:154.0px;height:65.4px"><div class="btns"><i class="up"><b></b></i><i class="dn"><b></b></i></div></div>
<div class="t" style="left:710.9px;top:880.4px;font-size:22.20px;color:#000;font-weight:normal;">Option 1</div>
<div class="t" style="left:710.1px;top:967.0px;font-size:31.00px;color:#000;font-weight:normal;">211t</div>
<div class="t" style="left:709.6px;top:1054.1px;font-size:30.80px;color:#000;font-weight:normal;">2M2T</div>
<div class="t" style="left:710.2px;top:1141.4px;font-size:31.00px;color:#000;font-weight:normal;">0.2</div>
<div class="t" style="left:1022.9px;top:881.0px;font-size:29.50px;color:#000;font-weight:normal;">4</div>
<div class="t" style="left:1022.1px;top:966.4px;font-size:30.00px;color:#000;font-weight:normal;">77km/h</div>
<div class="t" style="left:1022.3px;top:1053.1px;font-size:30.40px;color:#000;font-weight:normal;">0.06</div>
<div class="t" style="left:1021.9px;top:1141.9px;font-size:30.50px;color:#000;font-weight:normal;">195s</div>
<div class="t" style="left:851.8px;top:880.5px;font-size:22.40px;color:#00ff00;font-weight:bold;">D-S curves</div>
<div class="t" style="left:851.5px;top:965.4px;font-size:22.70px;color:#000;font-weight:bold;">Train weight</div>
<div class="t" style="left:851.4px;top:1052.4px;font-size:22.60px;color:#000;font-weight:bold;">Marshalling</div>
<div class="t" style="left:850.9px;top:1142.4px;font-size:22.70px;color:#000;font-weight:bold;">Adhesion ratio</div>
<div class="t" style="left:1166.9px;top:880.1px;font-size:22.47px;color:#000;font-weight:bold;">Number of motors</div>
<div class="t" style="left:1166.9px;top:965.2px;font-size:22.40px;color:#000;font-weight:bold;">Max limit speed</div>
<div class="t" style="left:1166.9px;top:1052.8px;font-size:22.40px;color:#000;font-weight:bold;">Rotational coefficient</div>
<div class="t" style="left:1166.9px;top:1142.1px;font-size:22.50px;color:#000;font-weight:bold;">Expected running time</div>
<svg style="position:absolute;left:0;top:0;overflow:visible" width="1" height="1"><polygon points="1577,833 1577,903.4 1421.4,903.4 1433.4,891.4 1565,891.4 1565,845" fill="#c9c9c9"/></svg><div class="btn" style="left:1434.3px;top:847.3px;width:130.7px;height:44.8px"></div>
<svg style="position:absolute;left:0;top:0;overflow:visible" width="1" height="1"><polygon points="1428.7,921.8 1577,921.8 1569,929.8 1437.7,929.8 1437.7,981.7 1428.7,990.7" fill="#858585"/><polygon points="1577,921.8 1577,990.7 1428.7,990.7 1437.7,981.7 1569,981.7 1569,929.8" fill="#e6e6e6"/></svg><div class="btn" style="left:1437.5px;top:930.6px;width:130.5px;height:51.4px"></div>
<svg style="position:absolute;left:0;top:0;overflow:visible" width="1" height="1"><polygon points="1574,1008.8 1574,1076.1 1419,1076.1 1431,1064.1 1561,1064.1 1561,1020.8" fill="#c9c9c9"/></svg><div class="btn" style="left:1430.4px;top:1020.8px;width:130.6px;height:43.9px"></div>
<svg style="position:absolute;left:0;top:0;overflow:visible" width="1" height="1"><polygon points="1574,1098.2 1574,1166.4 1419,1166.4 1431,1154.4 1561,1154.4 1561,1110.2" fill="#c9c9c9"/></svg><div class="btn" style="left:1430.4px;top:1110.7px;width:130.6px;height:43.7px"></div>
<div class="t" style="left:1459.0px;top:867.4px;font-size:32.76px;color:#00ff00;font-weight:normal;">Design</div>
<div class="t" style="left:1449.2px;top:954.1px;font-size:31.03px;color:#000;font-weight:normal;">dSPACE</div>
<div class="t" style="left:1466.9px;top:1042.5px;font-size:34.48px;color:#0000ff;font-weight:normal;">HIL</div>
<div class="t" style="left:1437.0px;top:1135.5px;font-size:27.69px;color:#ff0000;font-weight:normal;">Parameters</div>
</body></html>
